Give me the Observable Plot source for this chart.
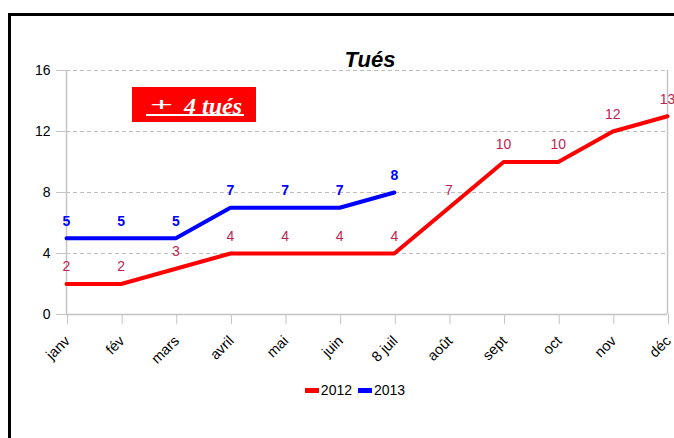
<!DOCTYPE html>
<html><head><meta charset="utf-8">
<script src="https://cdn.jsdelivr.net/npm/d3@7"></script>
<script src="https://cdn.jsdelivr.net/npm/@observablehq/plot@0.6"></script>
<style>
body{margin:0;background:#fff;font-family:"Liberation Sans",Arial,sans-serif;}
#wrap{position:relative;width:674px;height:438px;overflow:hidden;background:#fff;}
#frame{position:absolute;left:8px;top:13px;width:720px;height:520px;border:3px solid #000;box-sizing:border-box;pointer-events:none;}
#chart{position:absolute;left:0;top:0;}
#title{position:absolute;left:270px;width:200px;top:49px;text-align:center;font:italic bold 22px "Liberation Sans",Arial,sans-serif;line-height:1;color:#000;}
#box{position:absolute;left:132px;top:87px;width:124px;height:35px;background:#ff0000;color:#fff;}
#box .p{position:absolute;left:18px;top:8px;font:normal 18px "Liberation Sans",Arial,sans-serif;line-height:20px;transform:scaleX(2.2);transform-origin:left center;}
#box .t{position:absolute;left:52px;top:6px;font:italic bold 24px "Liberation Serif","Times New Roman",serif;line-height:26px;white-space:nowrap;}
#box .u{position:absolute;left:14px;top:27px;width:98px;height:2px;background:#fff;}
#legend{position:absolute;left:0;width:674px;top:382px;text-align:center;font:14px "Liberation Sans",Arial,sans-serif;line-height:16px;color:#000;padding-left:42px;box-sizing:border-box;}
#legend span.sw{display:inline-block;width:14px;height:5px;vertical-align:middle;margin-right:2px;margin-top:-2px;}
#legend span.it{margin-right:6px;}
</style>
</head><body>
<div id="wrap">
  <div id="chart"></div>
  <div id="title">Tués</div>
  <div id="box"><span class="p">+</span><span class="t">4 tués</span><div class="u"></div></div>
  <div id="legend"></div>
  <div id="frame"></div>
</div>
<script>
const months = ["janv","fév","mars","avril","mai","juin","8 juil","août","sept","oct","nov","déc"];
const values2012 = [2,2,3,4,4,4,4,7,10,10,12,13];
const values2013 = [5,5,5,7,7,7,8];
const yTicks = [0,4,8,12,16];
const seriesNames = ["2012","2013"];
const seriesColors = ["#ff0000","#0000ff"];
const labelColors = ["#be1e50","#0000ff"];

const data2012 = months.map((m,i)=>({m, v: values2012[i]}));
const data2013 = values2013.map((v,i)=>({m: months[i], v}));

const chart = Plot.plot({
  width: 674, height: 438,
  marginLeft: 66, marginRight: 7, marginTop: 70, marginBottom: 124,
  x: {type: "point", domain: months, padding: 0, round: false},
  y: {domain: [0,16]},
  style: {fontFamily: "'Liberation Sans', Arial, sans-serif", fontSize: "14px", background: "transparent", color: "#000"},
  marks: [
    Plot.ruleY(yTicks.filter(d => d > 0), {stroke: "#bdbdbd", strokeWidth: 1, strokeDasharray: "4,3"}),
    Plot.ruleX([months[0], months[months.length-1]], {y1: 0, y2: 16, stroke: "#c4c4c4", strokeWidth: 1.5}),
    Plot.ruleY([0], {stroke: "#c4c4c4", strokeWidth: 1.5}),
    Plot.axisY({ticks: yTicks, tickSize: 10, tickPadding: 6, stroke: "#c4c4c4", fill: "#000", label: null, fontSize: 14}),
    Plot.axisX({tickSize: 10, tickRotate: -45, tickPadding: 14, dx: 1, stroke: "#c4c4c4", fill: "#000", label: null, fontSize: 14.5}),
    Plot.line(data2012, {x: "m", y: "v", stroke: seriesColors[0], strokeWidth: 4}),
    Plot.line(data2013, {x: "m", y: "v", stroke: seriesColors[1], strokeWidth: 4}),
    Plot.text(data2012, {x: "m", y: "v", text: "v", dy: -17, fill: labelColors[0], fontSize: 14}),
    Plot.text(data2013, {x: "m", y: "v", text: "v", dy: -17, fill: labelColors[1], fontSize: 14, fontWeight: "bold"})
  ]
});
document.getElementById("chart").appendChild(chart);

const legend = document.getElementById("legend");
seriesNames.forEach((n,i)=>{
  const sw = document.createElement("span"); sw.className="sw"; sw.style.background = seriesColors[i];
  const t = document.createElement("span"); t.className="it"; t.textContent = n;
  legend.appendChild(sw); legend.appendChild(t);
});
</script>
</body></html>
